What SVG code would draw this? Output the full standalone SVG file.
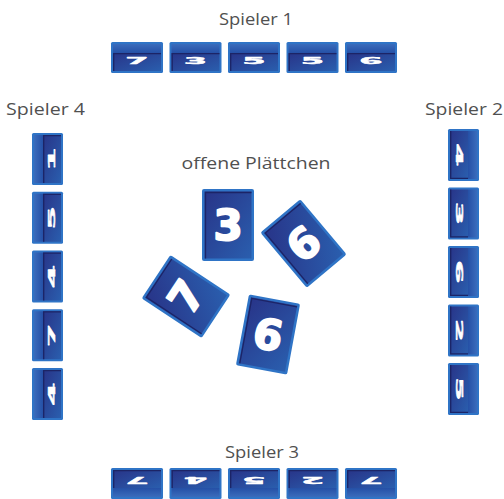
<svg xmlns="http://www.w3.org/2000/svg" xmlns:xlink="http://www.w3.org/1999/xlink" width="504" height="499" viewBox="0 0 504 499">
<style>
.lbl{font-family:"Open Sans","Liberation Sans",sans-serif;font-size:17px;fill:#505050}
.d{font-family:"DejaVu Sans","Liberation Sans",sans-serif;font-weight:bold;font-size:21px;fill:#fff;stroke:#fff;stroke-width:0.9;stroke-linejoin:round;text-anchor:middle}
.D{font-family:"DejaVu Sans","Liberation Sans",sans-serif;font-weight:bold;font-size:42px;fill:#fff;stroke:#fff;stroke-width:2;stroke-linejoin:round;text-anchor:middle}
.edge{fill:#2f74c6}
.dk{fill:none;stroke:#1c2466;stroke-width:1.3}
</style>
<defs>
<linearGradient id="face" x1="0" y1="0" x2="1" y2="1">
<stop offset="0" stop-color="#283488"/>
<stop offset="1" stop-color="#2a5eae"/>
</linearGradient>
<linearGradient id="bandV" x1="0" y1="0" x2="0" y2="1">
<stop offset="0" stop-color="#3a6cbc"/>
<stop offset="1" stop-color="#2550a6"/>
</linearGradient>
<linearGradient id="bandH" x1="0" y1="0" x2="1" y2="0">
<stop offset="0" stop-color="#3a6cbc"/>
<stop offset="1" stop-color="#2550a6"/>
</linearGradient>
<linearGradient id="bandH2" x1="1" y1="0" x2="0" y2="0">
<stop offset="0" stop-color="#3a6cbc"/>
<stop offset="1" stop-color="#2550a6"/>
</linearGradient>
<linearGradient id="bandV2" x1="0" y1="1" x2="0" y2="0">
<stop offset="0" stop-color="#3a6cbc"/>
<stop offset="1" stop-color="#2550a6"/>
</linearGradient>
<g id="tT">
<rect class="edge" x="-26" y="-15.5" width="52" height="31" rx="1.5"/>
<rect x="-24" y="-13.5" width="48" height="9" fill="url(#bandV)"/>
<rect x="-24" y="-4.5" width="48" height="18" fill="url(#face)"/>
<path class="dk" d="M-23.3,13.5 V-3.8 H24"/>
</g>
<g id="tB">
<rect class="edge" x="-26" y="-15.5" width="52" height="31" rx="1.5"/>
<rect x="-24" y="4.5" width="48" height="9" fill="url(#bandV2)"/>
<rect x="-24" y="-13.5" width="48" height="18" fill="url(#face)"/>
<path class="dk" d="M-23.3,4.5 V-12.8 H24"/>
</g>
<g id="tL">
<rect class="edge" x="-15.5" y="-26" width="31" height="52" rx="1.5"/>
<rect x="-13.5" y="-24" width="9" height="48" fill="url(#bandH)"/>
<rect x="-4.5" y="-24" width="18" height="48" fill="url(#face)"/>
<path class="dk" d="M-3.8,24 V-23.3 H13.5"/>
</g>
<g id="tR">
<rect class="edge" x="-15.5" y="-26" width="31" height="52" rx="1.5"/>
<rect x="4.5" y="-24" width="9" height="48" fill="url(#bandH2)"/>
<rect x="-13.5" y="-24" width="18" height="48" fill="url(#face)"/>
<path class="dk" d="M-12.8,-24 V23.3 H4.5"/>
</g>
<g id="tC">
<rect class="edge" x="-26" y="-36" width="52" height="72" rx="2"/>
<rect x="-23.5" y="-33.5" width="47" height="67" fill="url(#face)"/>
<path class="dk" d="M-22.5,33.5 V-32.5 H23.5" stroke-width="2"/>
</g>
</defs>

<g id="labels">
<text class="lbl" x="256" y="25" text-anchor="middle" textLength="74" lengthAdjust="spacingAndGlyphs">Spieler 1</text>
<text class="lbl" x="6" y="115" textLength="79" lengthAdjust="spacingAndGlyphs">Spieler 4</text>
<text class="lbl" x="425" y="115" textLength="78" lengthAdjust="spacingAndGlyphs">Spieler 2</text>
<text class="lbl" x="262" y="458" text-anchor="middle" textLength="74" lengthAdjust="spacingAndGlyphs">Spieler 3</text>
<text class="lbl" x="256" y="169" text-anchor="middle" textLength="149" lengthAdjust="spacingAndGlyphs">offene Plättchen</text>
</g>

<g id="spieler1">
<g id="p1t1"><use xlink:href="#tT" x="137" y="57.5"/><text class="d" transform="translate(137,61) scale(1.6,0.45)" y="7.6">7</text></g>
<g id="p1t2"><use xlink:href="#tT" x="195.5" y="57.5"/><text class="d" transform="translate(195.5,61) scale(1.6,0.45)" y="7.6">3</text></g>
<g id="p1t3"><use xlink:href="#tT" x="254" y="57.5"/><text class="d" transform="translate(254,61) scale(1.6,0.45)" y="7.6">5</text></g>
<g id="p1t4"><use xlink:href="#tT" x="312.5" y="57.5"/><text class="d" transform="translate(312.5,61) scale(1.6,0.45)" y="7.6">5</text></g>
<g id="p1t5"><use xlink:href="#tT" x="371" y="57.5"/><text class="d" transform="translate(371,61) scale(1.6,0.45)" y="7.6">6</text></g>
</g>

<g id="spieler3">
<g id="p3t1"><use xlink:href="#tB" x="137" y="483.5"/><text class="d" transform="translate(137,480) rotate(180) scale(1.6,0.45)" y="7.6">7</text></g>
<g id="p3t2"><use xlink:href="#tB" x="195.5" y="483.5"/><text class="d" transform="translate(195.5,480) rotate(180) scale(1.6,0.45)" y="7.6">4</text></g>
<g id="p3t3"><use xlink:href="#tB" x="254" y="483.5"/><text class="d" transform="translate(254,480) rotate(180) scale(1.6,0.45)" y="7.6">5</text></g>
<g id="p3t4"><use xlink:href="#tB" x="312.5" y="483.5"/><text class="d" transform="translate(312.5,480) rotate(180) scale(1.6,0.45)" y="7.6">2</text></g>
<g id="p3t5"><use xlink:href="#tB" x="371" y="483.5"/><text class="d" transform="translate(371,480) rotate(180) scale(1.6,0.45)" y="7.6">7</text></g>
</g>

<g id="spieler4">
<g id="p4t1"><use xlink:href="#tL" x="47.5" y="159"/><text class="d" transform="translate(51.5,159) rotate(-90) scale(1.6,0.45)" y="7.6">1</text></g>
<g id="p4t2"><use xlink:href="#tL" x="47.5" y="217.75"/><text class="d" transform="translate(51.5,217.75) rotate(-90) scale(1.6,0.45)" y="7.6">5</text></g>
<g id="p4t3"><use xlink:href="#tL" x="47.5" y="276.5"/><text class="d" transform="translate(51.5,276.5) rotate(-90) scale(1.6,0.45)" y="7.6">4</text></g>
<g id="p4t4"><use xlink:href="#tL" x="47.5" y="335.25"/><text class="d" transform="translate(51.5,335.25) rotate(-90) scale(1.6,0.45)" y="7.6">7</text></g>
<g id="p4t5"><use xlink:href="#tL" x="47.5" y="394"/><text class="d" transform="translate(51.5,394) rotate(-90) scale(1.6,0.45)" y="7.6">4</text></g>
</g>

<g id="spieler2">
<g id="p2t1"><use xlink:href="#tR" x="463.5" y="155"/><text class="d" transform="translate(459.5,155) rotate(90) scale(1.6,0.45)" y="7.6">4</text></g>
<g id="p2t2"><use xlink:href="#tR" x="463.5" y="213.5"/><text class="d" transform="translate(459.5,213.5) rotate(90) scale(1.6,0.45)" y="7.6">3</text></g>
<g id="p2t3"><use xlink:href="#tR" x="463.5" y="272"/><text class="d" transform="translate(459.5,272) rotate(90) scale(1.6,0.45)" y="7.6">6</text></g>
<g id="p2t4"><use xlink:href="#tR" x="463.5" y="330.5"/><text class="d" transform="translate(459.5,330.5) rotate(90) scale(1.6,0.45)" y="7.6">2</text></g>
<g id="p2t5"><use xlink:href="#tR" x="463.5" y="389"/><text class="d" transform="translate(459.5,389) rotate(90) scale(1.6,0.45)" y="7.6">5</text></g>
</g>

<g id="offen">
<g id="c3" transform="translate(228,225)"><use xlink:href="#tC"/><text class="D" y="15">3</text></g>
<g id="c6a" transform="translate(303.5,243.5) rotate(-40)"><use xlink:href="#tC"/><text class="D" y="15">6</text></g>
<g id="c7" transform="translate(186,296.5) rotate(-56.6)"><use xlink:href="#tC"/><text class="D" y="15">7</text></g>
<g id="c6b" transform="translate(268,334.5) rotate(10.5)"><use xlink:href="#tC"/><text class="D" y="15">6</text></g>
</g>
</svg>
